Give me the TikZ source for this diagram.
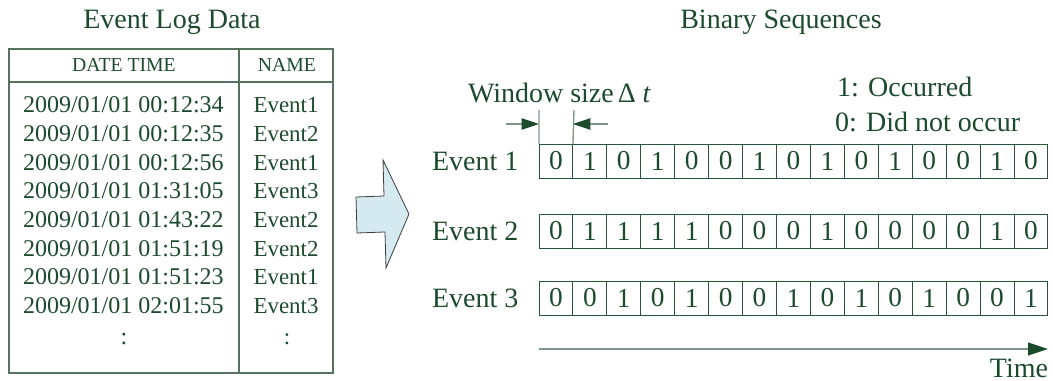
\documentclass[tikz,border=0pt]{standalone}
\usepackage{fontspec}
\setmainfont{Liberation Serif}
\usetikzlibrary{arrows.meta}
\definecolor{txt}{RGB}{28,74,44}
\definecolor{cellln}{RGB}{40,85,55}
\definecolor{tabln}{RGB}{85,115,95}
\definecolor{lgray}{RGB}{125,150,133}
\definecolor{fillblue}{RGB}{213,234,240}
\definecolor{arrln}{RGB}{60,60,60}
\tikzset{
  every node/.style={text=txt, inner sep=0pt, outer sep=0pt},
  big/.style={font=\fontsize{21}{25}\selectfont},
  hdr/.style={font=\fontsize{14.8}{17}\selectfont},
  datef/.style={font=\fontsize{18}{21}\selectfont, anchor=base west},
  namef/.style={font=\fontsize{17.2}{20}\selectfont, anchor=base},
  cell/.style={draw=cellln, line width=0.7pt, minimum width=25.45pt, minimum height=25.5pt, font=\fontsize{20.5}{24}\selectfont},
  tline/.style={draw=tabln, line width=1.1pt},
  wline/.style={draw=lgray, line width=1pt},
  warrow/.style={draw=lgray, line width=1pt, -{Triangle[length=13pt,width=8.5pt,color=txt]}},
  tarrow/.style={draw=lgray, line width=1.6pt, -{Triangle[length=15pt,width=9.5pt,color=txt]}},
}
\begin{document}
\begin{tikzpicture}[x=0.75pt,y=-0.75pt]
\useasboundingbox (0,0) rectangle (1053,381);

% titles
\node[big, anchor=base] (t1) at (172,29) {Event Log Data};
\node[big, anchor=base] (t2) at (781,29) {Binary Sequences};

% table
\node[tline, draw, minimum width=243pt, minimum height=243pt, anchor=north west] (tab) at (9,49) {};
\coordinate (hl) at (9,82);
\coordinate (vc) at (239,49);
\draw[tline] (hl) -- (hl -| tab.east);
\draw[tline] (vc) -- (vc |- tab.south);
\node[hdr, anchor=base] (h1) at (124,72) {DATE TIME};
\node[hdr, anchor=base] (h2) at (287,72) {NAME};

\foreach \d/\n [count=\i from 0] in {
  00:12:34/Event1, 00:12:35/Event2, 00:12:56/Event1, 01:31:05/Event3,
  01:43:22/Event2, 01:51:19/Event2, 01:51:23/Event1, 02:01:55/Event3}{
  \node[datef] (d\i) at (23,{113+28.6*\i}) {2009/01/01 \d};
  \node[namef] (n\i) at (286,{113+28.6*\i}) {\n};
}
\node[datef, anchor=base] (dc) at (124,344) {:};
\node[namef] (nc) at (287,344) {:};

% block arrow
\draw[draw=arrln, line width=0.6pt, fill=fillblue]
  (356,197) -- (384,196) -- (383,160) -- (409,214) -- (386,268) -- (385,232) -- (357,233) -- cycle;

% sequences
\foreach \row/\yc/\bits in {1/161/{0,1,0,1,0,0,1,0,1,0,1,0,0,1,0},
                            2/231/{0,1,1,1,1,0,0,0,1,0,0,0,0,1,0},
                            3/298/{0,0,1,0,1,0,0,1,0,1,0,1,0,0,1}}{
  \node[big, anchor=west] (ev\row) at (432,\yc) {Event \row};
  \foreach \b [count=\i] in \bits {
    \node[cell] (e\row c\i) at ({539+33.93*(\i-0.5)},\yc) {\b};
  }
}

% window size
\node[big, anchor=base west] (ws) at (468,103) {Window size\kern3pt Δ\kern5pt\textit{t}};
\coordinate (wl) at (539,110);
\coordinate (wr) at (574,110);
\draw[wline] (e1c1.north west) -- (wl);
\draw[wline] (e1c1.north east) -- (wr);
\coordinate (al) at (506,124);
\coordinate (ar) at (608,124);
\draw[warrow] (al) -- (al -| e1c1.north west);
\draw[warrow] (ar) -- (ar -| e1c1.north east);

% legend
\node[big, anchor=base west] (l1) at (837,97) {1: Occurred};
\node[big, anchor=base west] (l0) at (835,132) {0: Did not occur};

% time axis
\coordinate (ts) at (539,349);
\coordinate (te) at (1048,349);
\draw[tarrow] (ts) -- (te);
\node[big, anchor=base east] (time) at (1048,377) {Time};
\end{tikzpicture}
\end{document}
